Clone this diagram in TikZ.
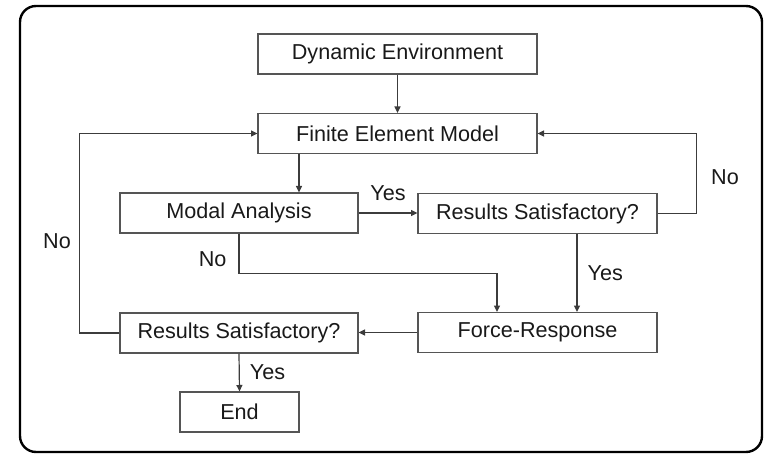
\documentclass[tikz,border=0pt]{standalone}
\usepackage{xcolor}
\usepackage{fontspec}
\setmainfont{Liberation Sans}
\usepackage{tikz}
\usetikzlibrary{arrows.meta, positioning, calc}
\definecolor{FlowBorder}{RGB}{85, 85, 85}
\definecolor{FlowLine}{RGB}{60, 60, 60}
\definecolor{FlowText}{RGB}{25, 25, 25}

\begin{document}
\begin{tikzpicture}[x=0.5pt, y=-0.5pt,
    flowbox/.style={draw=FlowBorder, line width=0.6pt, minimum height=20pt, inner sep=0pt,
                    text=FlowText, font=\fontsize{10.8}{13}\selectfont},
    flowline/.style={draw=FlowLine, line width=0.6pt, -{Triangle[length=3.2pt, width=3pt]}},
    flowtag/.style={text=FlowText, font=\fontsize{10.8}{13}\selectfont, inner sep=0pt}]
    \useasboundingbox (0,0) rectangle (765,454);
    \draw[line width=1.2pt, rounded corners=8pt] (20,6) rectangle (762,452);

    \node[flowbox, minimum width=139.5pt] (env)    at (397.5,54)  {Dynamic Environment};
    \node[flowbox, minimum width=139.5pt] (fem)    at (397.5,133.5) {Finite Element Model};
    \node[flowbox, minimum width=119pt]   (modal)  at (239,213)   {Modal Analysis};
    \node[flowbox, minimum width=119.5pt] (check1) at (537.5,213.5) {Results Satisfactory?};
    \node[flowbox, minimum width=119.5pt] (force)  at (537.5,332.5) {Force-Response};
    \node[flowbox, minimum width=119pt]   (check2) at (239,333)   {Results Satisfactory?};
    \node[flowbox, minimum width=59.5pt]  (finish) at (239.5,412) {End};

    \draw[flowline] (env) -- (fem);
    \draw[flowline] ([xshift=-49.25pt]fem.south) -- ([xshift=-49.25pt]fem.south |- modal.north);
    \draw[flowline] (modal.east) -- node[flowtag, above=6pt] {Yes} (modal.east -| check1.west);
    \draw[flowline] (check1.east) -- ++(19.5pt,0) |- node[flowtag, right=7pt, pos=0.23] {No} (fem.east);
    \draw[flowline] ([xshift=19.75pt]check1.south) -- node[flowtag, right=5pt] {Yes} ([xshift=19.75pt]force.north);
    \draw[flowline] (modal.south) -- node[flowtag, left=6pt, pos=0.65] {No} ++(0,-20pt) -| ([xshift=-20.25pt]force.north);
    \draw[flowline] (force.west) -- (force.west -| check2.east);
    \draw[flowline] (check2.west) -- ++(-20pt,0) |- node[flowtag, left=4pt, pos=0.23] {No} (fem.west);
    \draw[flowline] (check2.south) -- node[flowtag, right=5pt] {Yes} (finish.north);
  \end{tikzpicture}
\end{document}
